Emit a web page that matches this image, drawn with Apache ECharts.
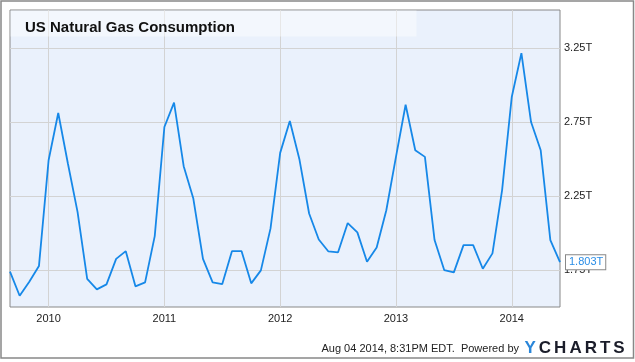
<!DOCTYPE html>
<html>
<head>
<meta charset="utf-8">
<script src="https://cdn.jsdelivr.net/npm/echarts@6/dist/echarts.min.js"></script>
<style>html,body{margin:0;padding:0;background:#fff;}#c{width:635px;height:362px;}</style>
</head>
<body>
<div id="c"></div>
<script>
var months = [
  '2009-09','2009-10','2009-11','2009-12',
  '2010-01','2010-02','2010-03','2010-04','2010-05','2010-06','2010-07','2010-08','2010-09','2010-10','2010-11','2010-12',
  '2011-01','2011-02','2011-03','2011-04','2011-05','2011-06','2011-07','2011-08','2011-09','2011-10','2011-11','2011-12',
  '2012-01','2012-02','2012-03','2012-04','2012-05','2012-06','2012-07','2012-08','2012-09','2012-10','2012-11','2012-12',
  '2013-01','2013-02','2013-03','2013-04','2013-05','2013-06','2013-07','2013-08','2013-09','2013-10','2013-11','2013-12',
  '2014-01','2014-02','2014-03','2014-04','2014-05','2014-06'
];
// US natural gas consumption, trillion cubic feet
var consumption = [
  1.739, 1.576, 1.671, 1.777,
  2.493, 2.813, 2.471, 2.144, 1.691, 1.619, 1.653, 1.826, 1.878, 1.640, 1.667, 1.980,
  2.718, 2.883, 2.453, 2.234, 1.826, 1.667, 1.655, 1.878, 1.878, 1.660, 1.748, 2.032,
  2.543, 2.759, 2.498, 2.133, 1.957, 1.876, 1.870, 2.068, 2.005, 1.806, 1.903, 2.155,
  2.516, 2.869, 2.561, 2.516, 1.953, 1.750, 1.734, 1.919, 1.919, 1.759, 1.863, 2.291,
  2.921, 3.218, 2.752, 2.561, 1.953, 1.803
];
var yTicks = [1.75, 2.25, 2.75, 3.25];
var yearTickMonth = '-01';

var chart = echarts.init(document.getElementById('c'));
var font = "'Liberation Sans', Arial, sans-serif";
var isYearStart = function (i, v) { return String(v).slice(4) === yearTickMonth; };

chart.setOption({
  animation: false,
  textStyle: { fontFamily: font },
  title: {
    text: 'US Natural Gas Consumption',
    left: 20, top: 15,
    textStyle: { fontSize: 15, fontWeight: 'bold', color: '#111', fontFamily: font }
  },
  grid: {
    left: 10, right: 75, top: 10, bottom: 55,
    show: true, backgroundColor: '#eaf1fc', borderColor: '#888', borderWidth: 1
  },
  xAxis: {
    type: 'category',
    data: months,
    boundaryGap: false,
    axisLine: { show: false },
    axisTick: { show: false },
    axisLabel: {
      interval: isYearStart,
      formatter: function (v) { return v.slice(0, 4); },
      color: '#222', fontSize: 11, margin: 6
    },
    splitLine: { show: true, interval: isYearStart, lineStyle: { color: '#d3d3d3', width: 1 } }
  },
  yAxis: {
    type: 'value',
    position: 'right',
    min: 1.5, max: 3.51,
    axisLine: { show: false },
    axisTick: { show: false, customValues: yTicks },
    axisLabel: {
      customValues: yTicks,
      formatter: function (v) { return v.toFixed(2) + 'T'; },
      color: '#222', fontSize: 11, margin: 4
    },
    splitLine: { show: true, lineStyle: { color: '#d3d3d3', width: 1 } }
  },
  graphic: [
    { type: 'rect', z: 1, silent: true,
      shape: { x: 10.5, y: 10.5, width: 406, height: 26 },
      style: { fill: 'rgba(255,255,255,0.45)' } },
    { type: 'rect', z: 0, silent: true,
      shape: { x: 1, y: 1, width: 632.5, height: 357 },
      style: { fill: 'none', stroke: '#888', lineWidth: 1.5 } },
    { type: 'text', x: 519, y: 349, silent: true,
      style: { text: 'Aug 04 2014, 8:31PM EDT.  Powered by', fontSize: 11, fill: '#222', fontFamily: font,
               align: 'right', verticalAlign: 'middle' } },
    { type: 'text', x: 523, y: 348, silent: true,
      style: {
        text: '{y|Y}{c|C}{c|H}{c|A}{c|R}{c|T}{c|S}',
        verticalAlign: 'middle',
        rich: {
          y: { fontSize: 17, fontWeight: 'bold', fill: '#2a86d9', padding: [0, 1.5], fontFamily: font },
          c: { fontSize: 17, fontWeight: 'bold', fill: '#1b1d2a', padding: [0, 1.5], fontFamily: font }
        }
      } }
  ],
  series: [{
    type: 'line',
    data: consumption,
    symbol: 'none',
    z: 3,
    lineStyle: { color: '#1688e8', width: 1.8 },
    endLabel: {
      show: true,
      formatter: function (p) { return p.value.toFixed(3) + 'T'; },
      color: '#2a8de6', fontSize: 11,
      backgroundColor: '#fff', borderColor: '#888', borderWidth: 1,
      padding: [2, 2, 1, 3], distance: 6
    }
  }]
});
</script>
</body>
</html>
